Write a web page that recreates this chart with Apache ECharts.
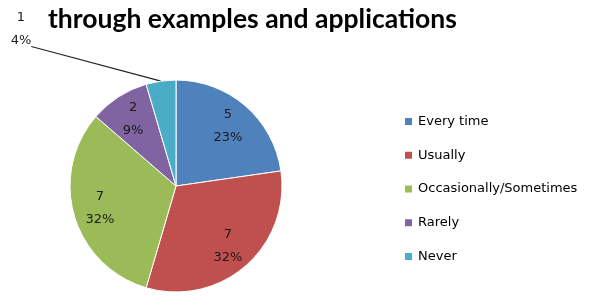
<!DOCTYPE html>
<html>
<head>
<meta charset="utf-8">
<script src="https://cdn.jsdelivr.net/npm/echarts@6/dist/echarts.min.js"></script>
<style>
html,body{margin:0;padding:0;background:#fff;}
#chart{width:589px;height:298px;}
</style>
</head>
<body>
<div id="chart"></div>
<script>
var titleText = 'through examples and applications';
var categories = ['Every time', 'Usually', 'Occasionally/Sometimes', 'Rarely', 'Never'];
var values = [5, 7, 7, 2, 1];
var colors = ['#4F81BD', '#C0504D', '#9BBB59', '#8064A2', '#4BACC6'];

var chart = echarts.init(document.getElementById('chart'));
var center = [176, 186];
var R = 106;

var sectorData = categories.map(function (c, i) {
  return { name: c, value: values[i], itemStyle: { color: colors[i] } };
});
var total = values.reduce(function (a, b) { return a + b; }, 0);
var labelData = categories.map(function (c, i) {
  var item = { name: c, value: values[i] };
  if (values[i] / total < 0.05) {
    item.label = {
      position: 'outside',
      formatter: '{c}\n{d}%\n{pad| }',
      rich: { pad: { fontSize: 1, lineHeight: 34 } }
    };
    item.labelLine = { show: true };
  }
  return item;
});

chart.setOption({
  animation: false,
  backgroundColor: '#fff',
  title: {
    text: titleText,
    left: 43,
    top: 1,
    textStyle: { fontFamily: 'Lato', fontWeight: 'bold', fontSize: 26.5, color: '#000' }
  },
  legend: {
    orient: 'vertical',
    left: 398,
    top: 110,
    itemWidth: 9,
    itemHeight: 9,
    itemGap: 20.75,
    icon: 'rect',
    data: categories,
    textStyle: { fontFamily: 'DejaVu Sans', fontSize: 13, color: '#000' }
  },
  series: [
    {
      type: 'pie',
      center: center,
      radius: [0, R],
      startAngle: 90,
      clockwise: true,
      silent: true,
      label: { show: false },
      labelLine: { show: false },
      itemStyle: { borderColor: '#fff', borderWidth: 1 },
      data: sectorData
    },
    {
      type: 'pie',
      center: center,
      radius: [R * 0.44, R],
      startAngle: 90,
      clockwise: true,
      silent: true,
      percentPrecision: 0,
      itemStyle: { color: 'rgba(0,0,0,0)' },
      label: {
        show: true,
        position: 'inside',
        formatter: '{c}\n{d}%',
        fontFamily: 'DejaVu Sans',
        fontSize: 13,
        lineHeight: 23,
        color: '#1a1a1a'
      },
      labelLine: { show: false, length2: 0, lineStyle: { color: '#222', width: 1.2 } },
      labelLayout: function (params) {
        if (values[params.dataIndex] / total < 0.05) {
          return { x: 21, y: 46.5, align: 'center', verticalAlign: 'middle' };
        }
        return {};
      },
      data: labelData
    }
  ]
});
</script>
</body>
</html>
